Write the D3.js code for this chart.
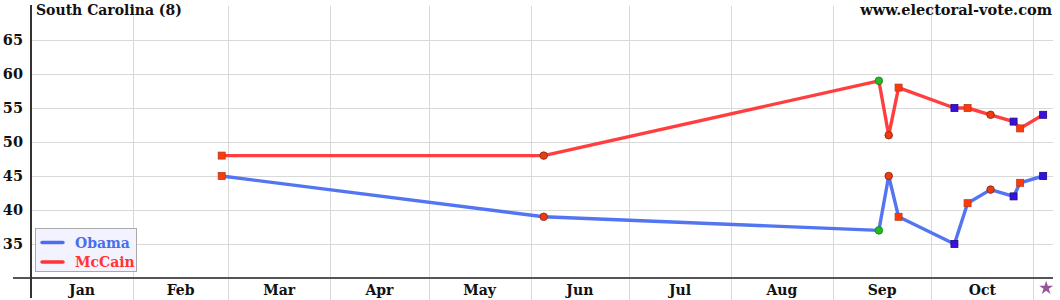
<!DOCTYPE html>
<html>
<head>
<meta charset="utf-8">
<script src="https://cdn.jsdelivr.net/npm/d3@7"></script>
<style>
  body { margin: 0; background: #fff; }
  text { font-family: "DejaVu Serif", serif; font-weight: bold; }
</style>
</head>
<body>
<div id="chart"></div>
<script>
var svgWidth = 1060;
var svgHeight = 300;

// poll data, South Carolina 2008
var pollDates = ["2008-02-28", "2008-06-05", "2008-09-15", "2008-09-18", "2008-09-21",
  "2008-10-08", "2008-10-12", "2008-10-19", "2008-10-26", "2008-10-28", "2008-11-04"];
var obama  = [45, 39, 37, 45, 39, 35, 41, 43, 42, 44, 45];
var mccain = [48, 48, 59, 51, 58, 55, 55, 54, 53, 52, 54];
var pollType = ["a", "b", "c", "b", "a", "d", "a", "b", "d", "a", "d"];

var yTicks = [35, 40, 45, 50, 55, 60, 65];
var monthLabels = ["Jan", "Feb", "Mar", "Apr", "May", "Jun", "Jul", "Aug", "Sep", "Oct"];
var electionDay = "2008-11-04";

var parseDate = d3.timeParse("%Y-%m-%d");

var polls = pollDates.map(function(d, i) {
  return { date: parseDate(d), obama: obama[i], mccain: mccain[i], type: pollType[i] };
});

var plotLeft = 31, plotRight = 1053, axisY = 278;

var x = d3.scaleTime()
  .domain([new Date(2008, 0, 1), new Date(2008, 10, 1)])
  .range([31.1, 1033.3]);

var y = d3.scaleLinear()
  .domain([30, 65])
  .range([axisY, 40]);

var svg = d3.select("#chart")
  .append("svg")
  .attr("width", svgWidth)
  .attr("height", svgHeight);

// horizontal grid
svg.append("g").selectAll("line")
  .data(yTicks)
  .enter()
  .append("line")
  .attr("x1", plotLeft)
  .attr("x2", plotRight)
  .attr("y1", d => Math.round(y(d)) + 0.5)
  .attr("y2", d => Math.round(y(d)) + 0.5)
  .attr("stroke", "#d9d9d9");

// vertical month grid
var monthStarts = d3.timeMonth.range(new Date(2008, 1, 1), new Date(2008, 10, 2));
svg.append("g").selectAll("line")
  .data(monthStarts)
  .enter()
  .append("line")
  .attr("x1", d => Math.round(x(d)) + 0.5)
  .attr("x2", d => Math.round(x(d)) + 0.5)
  .attr("y1", 6)
  .attr("y2", svgHeight)
  .attr("stroke", "#d9d9d9");

// y tick labels
svg.append("g").selectAll("text")
  .data(yTicks)
  .enter()
  .append("text")
  .attr("x", 23)
  .attr("y", d => y(d) + 5)
  .attr("text-anchor", "end")
  .attr("font-size", "14.5px")
  .attr("fill", "#111")
  .text(d => d);

// month labels, centred in the month
var monthMids = monthLabels.map(function(m, i) {
  var a = new Date(2008, i, 1), b = new Date(2008, i + 1, 1);
  return { label: m, x: (x(a) + x(b)) / 2 };
});
svg.append("g").selectAll("text")
  .data(monthMids)
  .enter()
  .append("text")
  .attr("x", d => d.x)
  .attr("y", 295)
  .attr("text-anchor", "middle")
  .attr("font-size", "14px")
  .attr("fill", "#111")
  .text(d => d.label);

// axes lines
svg.append("line")
  .attr("x1", 13).attr("x2", plotRight)
  .attr("y1", axisY).attr("y2", axisY)
  .attr("stroke", "#555").attr("stroke-width", 2);
svg.append("line")
  .attr("x1", plotLeft).attr("x2", plotLeft)
  .attr("y1", 5).attr("y2", 298)
  .attr("stroke", "#333").attr("stroke-width", 2);

// titles
svg.append("text")
  .attr("x", 36).attr("y", 15)
  .attr("font-size", "14px")
  .attr("fill", "#111")
  .text("South Carolina (8)");
svg.append("text")
  .attr("x", 1052).attr("y", 15)
  .attr("text-anchor", "end")
  .attr("font-size", "14.5px")
  .attr("fill", "#111")
  .text("www.electoral-vote.com");

// lines
var obamaLine = d3.line().x(d => x(d.date)).y(d => y(d.obama));
var mccainLine = d3.line().x(d => x(d.date)).y(d => y(d.mccain));

svg.append("path")
  .datum(polls)
  .attr("d", mccainLine)
  .attr("fill", "none")
  .attr("stroke", "#ff3535")
  .attr("stroke-opacity", 0.95)
  .attr("stroke-width", 3.4)
  .attr("stroke-linejoin", "round");

svg.append("path")
  .datum(polls)
  .attr("d", obamaLine)
  .attr("fill", "none")
  .attr("stroke", "#4a6ef0")
  .attr("stroke-opacity", 0.95)
  .attr("stroke-width", 3.4)
  .attr("stroke-linejoin", "round");

// markers
var markerStyle = {
  a: { shape: "square", fill: "#ff3a0a", stroke: "#b83a1a" },
  b: { shape: "circle", fill: "#ee3a10", stroke: "#7a2a10" },
  c: { shape: "circle", fill: "#22bb22", stroke: "#157a15" },
  d: { shape: "square", fill: "#3a10dd", stroke: "#1a0a88" }
};

function drawMarkers(key) {
  var g = svg.append("g");
  polls.forEach(function(p) {
    var st = markerStyle[p.type];
    var cx = x(p.date), cy = y(p[key]);
    if (st.shape === "square") {
      g.append("rect")
        .attr("x", cx - 3.5).attr("y", cy - 3.5)
        .attr("width", 7).attr("height", 7)
        .attr("fill", st.fill).attr("stroke", st.stroke).attr("stroke-width", 0.8);
    } else {
      g.append("circle")
        .attr("cx", cx).attr("cy", cy).attr("r", 3.8)
        .attr("fill", st.fill).attr("stroke", st.stroke).attr("stroke-width", 0.8);
    }
  });
}
drawMarkers("mccain");
drawMarkers("obama");

// election day star
svg.append("path")
  .attr("d", d3.symbol().type(d3.symbolStar).size(60)())
  .attr("transform", `translate(${x(parseDate(electionDay)) + 3}, 288)`)
  .attr("fill", "#995599");

// legend
var legend = svg.append("g");
legend.append("rect")
  .attr("x", 35.5).attr("y", 228.5)
  .attr("width", 101).attr("height", 43)
  .attr("fill", "#f3f3ff")
  .attr("stroke", "#aaaaaa");
var legendItems = [
  { name: "Obama", color: "#4a6ef0" },
  { name: "McCain", color: "#ff3535" }
];
legendItems.forEach(function(d, i) {
  var ly = 242.5 + i * 19.5;
  legend.append("line")
    .attr("x1", 42).attr("x2", 63)
    .attr("y1", ly).attr("y2", ly)
    .attr("stroke", d.color).attr("stroke-width", 3.4)
    .attr("stroke-linecap", "round");
  legend.append("text")
    .attr("x", 75).attr("y", ly + 5)
    .attr("font-size", "14px")
    .attr("fill", d.color)
    .text(d.name);
});
</script>
</body>
</html>
